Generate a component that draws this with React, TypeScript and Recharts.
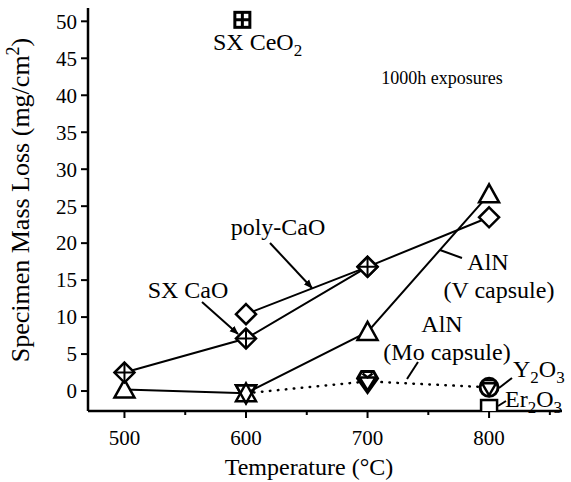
import React from 'react';
import { ComposedChart, Line, Scatter, XAxis, YAxis } from 'recharts';

const FONT = '"Liberation Serif", "Times New Roman", serif';

const sxCaoTemps = [500, 600, 700];
const sxCaoLoss = [2.5, 7.1, 16.8];
const polyCaoTemps = [600, 700, 800];
const polyCaoLoss = [10.4, 16.8, 23.5];
const alnVTemps = [500, 600, 700, 800];
const alnVLoss = [0.2, -0.3, 8.0, 26.6];
const alnMoTemps = [600, 700, 800];
const alnMoLoss = [-0.3, 1.3, 0.5];
const y2o3Temps = [800];
const y2o3Loss = [0.5];
const er2o3Temps = [800];
const er2o3Loss = [-2.3];
const ceo2Temps = [597];
const ceo2Loss = [50.2];

const xTicks = [500, 550, 600, 650, 700, 750, 800, 850];
const yTicks = [-2.5, 0, 2.5, 5, 7.5, 10, 12.5, 15, 17.5, 20, 22.5, 25, 27.5, 30, 32.5, 35, 37.5, 40, 42.5, 45, 47.5, 50];

const toRows = (t: number[], v: number[]) => t.map((x, i) => ({ t: x, v: v[i] }));

const sxCao = toRows(sxCaoTemps, sxCaoLoss);
const polyCao = toRows(polyCaoTemps, polyCaoLoss);
const alnV = toRows(alnVTemps, alnVLoss);
const alnMo = toRows(alnMoTemps, alnMoLoss);
const y2o3 = toRows(y2o3Temps, y2o3Loss);
const er2o3 = toRows(er2o3Temps, er2o3Loss);
const ceo2 = toRows(ceo2Temps, ceo2Loss);

const SW = 2.5;

const Diamond = ({ cx, cy, plus }: any) => (
  <g>
    <polygon points={`${cx},${cy - 10} ${cx + 10},${cy} ${cx},${cy + 10} ${cx - 10},${cy}`} fill="#fff" stroke="#000" strokeWidth={SW} />
    {plus && <path d={`M${cx - 9},${cy} H${cx + 9} M${cx},${cy - 9} V${cy + 9}`} stroke="#000" strokeWidth={2} />}
  </g>
);

const TriUp = ({ cx, cy }: any) => (
  <polygon points={`${cx},${cy - 10} ${cx + 10},${cy + 8} ${cx - 10},${cy + 8}`} fill="#fff" stroke="#000" strokeWidth={SW} />
);

const TriDown = ({ cx, cy, fill = 'none' }: any) => (
  <polygon points={`${cx - 10},${cy - 8} ${cx + 10},${cy - 8} ${cx},${cy + 10}`} fill={fill} stroke="#000" strokeWidth={SW} />
);

const Gem = ({ cx, cy }: any) => (
  <g>
    <polygon points={`${cx - 6},${cy - 10} ${cx + 6},${cy - 10} ${cx + 10},${cy - 3} ${cx},${cy + 11} ${cx - 10},${cy - 3}`} fill="#fff" stroke="#000" strokeWidth={3} />
    <polygon points={`${cx - 8},${cy - 4} ${cx + 8},${cy - 4} ${cx},${cy + 9}`} fill="none" stroke="#000" strokeWidth={2.5} />
    <path d={`M${cx - 5},${cy - 8} L${cx},${cy - 4} L${cx + 5},${cy - 8}`} fill="none" stroke="#000" strokeWidth={2.5} />
  </g>
);

const CircleTri = ({ cx, cy }: any) => (
  <g>
    <circle cx={cx} cy={cy} r={9} fill="#fff" stroke="#000" strokeWidth={3} />
    <polygon points={`${cx - 7},${cy - 4} ${cx + 7},${cy - 4} ${cx},${cy + 8}`} fill="#fff" stroke="#000" strokeWidth={2.5} />
    <path d={`M${cx - 5},${cy - 7} H${cx + 5}`} stroke="#000" strokeWidth={2} />
  </g>
);

const Square = ({ cx, cy }: any) => (
  <rect x={cx - 8} y={cy - 8} width={16} height={16} fill="#fff" stroke="#000" strokeWidth={SW} />
);

const SquarePlus = ({ cx, cy }: any) => (
  <g>
    <rect x={cx - 7.5} y={cy - 7.5} width={15} height={15} fill="#fff" stroke="#000" strokeWidth={3} />
    <path d={`M${cx - 7},${cy} H${cx + 7} M${cx},${cy - 7} V${cy + 7}`} stroke="#000" strokeWidth={3} />
  </g>
);

const YTick = (props: any) => {
  const { x, y, payload } = props;
  const v = payload.value;
  const major = v % 5 === 0;
  return (
    <g>
      <line x1={x} x2={x - (major ? 7 : 4)} y1={y} y2={y} stroke="#000" strokeWidth={2} />
      {major && (
        <text x={x - 11} y={y} dy="0.35em" textAnchor="end" fontFamily={FONT} fontSize={21} fill="#000">
          {v}
        </text>
      )}
    </g>
  );
};

const XTick = (props: any) => {
  const { x, y, payload } = props;
  const v = payload.value;
  const major = v % 100 === 0;
  return (
    <g>
      <line x1={x} x2={x} y1={y} y2={y + (major ? 7 : 4)} stroke="#000" strokeWidth={2} />
      {major && (
        <text x={x} y={y + 34} textAnchor="middle" fontFamily={FONT} fontSize={21} fill="#000">
          {v}
        </text>
      )}
    </g>
  );
};

const Annotations = () => (
  <svg width={571} height={482} style={{ position: 'absolute', left: 0, top: 0, pointerEvents: 'none' }}>
    <defs>
      <marker id="arr" viewBox="0 0 10 10" refX="9" refY="5" markerWidth="9" markerHeight="9" orient="auto" markerUnits="userSpaceOnUse">
        <path d="M0,1 L10,5 L0,9 z" fill="#000" />
      </marker>
    </defs>
    <g fontFamily={FONT} fill="#000" fontSize={24}>
      <text x={213} y={50}>
        SX CeO<tspan dy={6} fontSize={17}>2</tspan>
      </text>
      <text x={442} y={84} textAnchor="middle" fontSize={18}>1000h exposures</text>
      <text x={278} y={235} textAnchor="middle">poly-CaO</text>
      <text x={188} y={298} textAnchor="middle">SX CaO</text>
      <text x={488} y={270} textAnchor="middle">AlN</text>
      <text x={499} y={298} textAnchor="middle">(V capsule)</text>
      <text x={442} y={332} textAnchor="middle">AlN</text>
      <text x={447} y={360} textAnchor="middle">(Mo capsule)</text>
      <text x={513} y={377}>
        Y<tspan dy={6} fontSize={17}>2</tspan><tspan dy={-6}>O</tspan><tspan dy={6} fontSize={17}>3</tspan>
      </text>
      <text x={505} y={407}>
        Er<tspan dy={6} fontSize={17}>2</tspan><tspan dy={-6}>O</tspan><tspan dy={6} fontSize={17}>3</tspan>
      </text>
      <text x={309} y={475} textAnchor="middle">Temperature (°C)</text>
      <text transform="translate(29,200) rotate(-90)" textAnchor="middle" fontSize={26}>
        Specimen Mass Loss (mg/cm<tspan dy={-10} fontSize={18}>2</tspan><tspan dy={10}>)</tspan>
      </text>
    </g>
    <g stroke="#000" strokeWidth={2} fill="none">
      <line x1={270} y1={243} x2={312} y2={288} markerEnd="url(#arr)" />
      <line x1={202} y1={302} x2={238} y2={334} markerEnd="url(#arr)" />
      <line x1={440} y1={250} x2={462} y2={258} />
      <line x1={418} y1={362} x2={407} y2={379} />
      <line x1={499} y1={388} x2={512} y2={378} />
      <line x1={498} y1={406} x2={506} y2={401} />
    </g>
  </svg>
);

export default function App() {
  return (
    <div style={{ position: 'absolute', left: 0, top: 0, width: 571, height: 482, background: '#fff' }}>
      <ComposedChart width={571} height={482} margin={{ top: 8, right: 9, bottom: 0, left: 0 }}>
        <XAxis
          dataKey="t"
          type="number"
          domain={[470, 860]}
          ticks={xTicks}
          tick={<XTick />}
          tickLine={false}
          tickSize={0}
          tickMargin={0}
          height={71}
          stroke="#000"
          strokeWidth={2.5}
          allowDuplicatedCategory={false}
        />
        <XAxis xAxisId="top" orientation="top" type="number" domain={[0, 1]} tick={false} tickLine={false} height={0} stroke="#000" strokeWidth={2.5} />
        <YAxis
          type="number"
          domain={[-2.7, 51.8]}
          ticks={yTicks}
          tick={<YTick />}
          tickLine={false}
          tickSize={0}
          tickMargin={0}
          width={88}
          stroke="#000"
          strokeWidth={2.5}
          allowDataOverflow
        />
        <YAxis yAxisId="right" orientation="right" type="number" domain={[0, 1]} tick={false} tickLine={false} width={0} stroke="#000" strokeWidth={2.5} />
        <Line data={alnMo} dataKey="v" stroke="#000" strokeWidth={2.5} strokeDasharray="0.5 7.5" strokeLinecap="round" isAnimationActive={false}
          dot={(p: any) => (p.index === 0 ? <TriDown key={p.index} cx={p.cx} cy={p.cy} /> : p.index === 1 ? <Gem key={p.index} cx={p.cx} cy={p.cy} /> : <g key={p.index} />)} />
        <Line data={alnV} dataKey="v" stroke="#000" strokeWidth={2} isAnimationActive={false}
          dot={(p: any) => <TriUp key={p.index} cx={p.cx} cy={p.cy} />} />
        <Line data={polyCao} dataKey="v" stroke="#000" strokeWidth={2} isAnimationActive={false}
          dot={(p: any) => <Diamond key={p.index} cx={p.cx} cy={p.cy} />} />
        <Line data={sxCao} dataKey="v" stroke="#000" strokeWidth={2} isAnimationActive={false}
          dot={(p: any) => <Diamond key={p.index} cx={p.cx} cy={p.cy} plus />} />
        <Scatter data={alnMo.slice(0, 1)} dataKey="v" isAnimationActive={false} shape={(p: any) => <TriDown cx={p.cx} cy={p.cy} />} />
        <Scatter data={y2o3} dataKey="v" isAnimationActive={false} shape={(p: any) => <CircleTri cx={p.cx} cy={p.cy} />} />
        <Scatter data={er2o3} dataKey="v" isAnimationActive={false} shape={(p: any) => <Square cx={p.cx} cy={p.cy} />} />
        <Scatter data={ceo2} dataKey="v" isAnimationActive={false} shape={(p: any) => <SquarePlus cx={p.cx} cy={p.cy} />} />
      </ComposedChart>
      <Annotations />
    </div>
  );
}
